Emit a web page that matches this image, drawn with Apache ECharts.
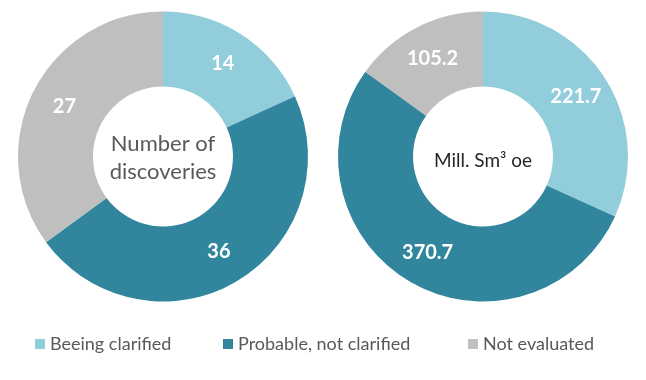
<!DOCTYPE html>
<html><head><meta charset="utf-8">
<script src="https://cdn.jsdelivr.net/npm/echarts@6/dist/echarts.min.js"></script>
<style>html,body{margin:0;padding:0;background:#fff}#c{width:646px;height:380px}</style>
</head><body><div id="c"></div>
<script>
const categories = ['Beeing clarified', 'Probable, not clarified', 'Not evaluated'];
const discoveries = [14, 36, 27];
const volumes = [221.7, 370.7, 105.2];
const centerTexts = ['Number of\ndiscoveries', 'Mill. Sm³ oe'];
const colors = ['#92CDDC', '#31859C', '#BFBFBF'];
const FONT = 'Lato';

function mk(vals){ return categories.map((n,i)=>({name:n, value:vals[i]})); }
const labelStyle = {show:true, position:'inside', color:'#fff', fontWeight:'bold', fontSize:20, fontFamily:FONT,
  padding:[4,0,0,0], formatter:p=>String(p.value)};

const chart = echarts.init(document.getElementById('c'), null, {renderer:'canvas'});
chart.setOption({
  animation:false,
  color:colors,
  title:[
    {text:centerTexts[0], left:163, top:130, textAlign:'center', padding:0,
     textStyle:{color:'#595959', fontSize:22, fontWeight:'normal', fontFamily:FONT, lineHeight:28}},
    {text:centerTexts[1], left:483, top:149, textAlign:'center', padding:0,
     textStyle:{color:'#262626', fontSize:19, fontWeight:'normal', fontFamily:FONT, lineHeight:24}}
  ],
  legend:[0,1,2].map((i)=>({
    data:[categories[i]], left:[30,218,463][i], top:330, icon:'rect', itemWidth:10, itemHeight:10,
    textStyle:{color:'#595959', fontSize:18, fontFamily:FONT}, selectedMode:false
  })),
  series:[
    {type:'pie', center:[163,156.5], radius:[70,145], startAngle:90, clockwise:true,
     data:mk(discoveries), label:labelStyle, labelLine:{show:false}, itemStyle:{borderWidth:0}, emphasis:{disabled:true}},
    {type:'pie', center:[483,156.5], radius:[70,145], startAngle:90, clockwise:true,
     data:mk(volumes), label:labelStyle, labelLine:{show:false}, itemStyle:{borderWidth:0}, emphasis:{disabled:true}}
  ]
});
</script></body></html>
